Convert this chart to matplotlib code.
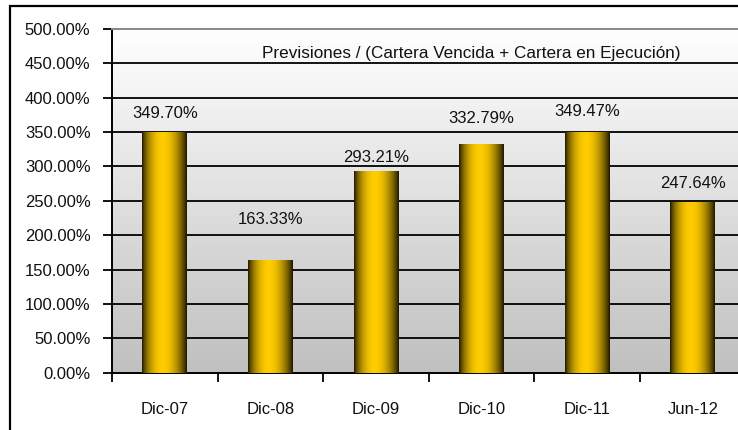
import matplotlib
matplotlib.use("Agg")
import matplotlib.pyplot as plt
from matplotlib.patches import Rectangle
from matplotlib.ticker import FixedLocator, FuncFormatter
import numpy as np

plt.rcParams['font.family'] = ['Liberation Sans', 'DejaVu Sans']

# datos
periodos = ["Dic-07", "Dic-08", "Dic-09", "Dic-10", "Dic-11", "Jun-12"]
cobertura = [349.70, 163.33, 293.21, 332.79, 349.47, 247.64]
titulo = "Previsiones / (Cartera Vencida + Cartera en Ejecución)"

# desplazamiento de las etiquetas sobre cada barra (pixeles)
label_dy = [19, 41, 14, 25, 21, 19]

fig = plt.figure(figsize=(7.38, 4.30), dpi=100)
fig.patch.set_facecolor("white")

# borde exterior del grafico (tipo Excel)
fig.patches.append(Rectangle((9.5 / 738, -0.1), 1.2, 1.1 - 6 / 430,
                             transform=fig.transFigure, fill=False,
                             edgecolor="black", linewidth=1.6))

ax = fig.add_axes([112 / 738, 57.3 / 430, 633.6 / 738, 343.7 / 430])
n = len(periodos)

# fondo degradado blanco -> gris
grad = np.linspace(0, 1, 256).reshape(-1, 1)
c_top = np.array([1.0, 1.0, 1.0])
c_bot = np.array([192, 192, 192]) / 255.0
bg = c_top + (c_bot - c_top) * grad[..., None]
ax.imshow(bg, extent=(0, n, 0, 500), aspect="auto", zorder=0,
          interpolation="bilinear", origin="upper")
ax.set_xlim(0, n)
ax.set_ylim(0, 500)

# lineas de division
for v in range(50, 500, 50):
    ax.axhline(v, color="black", linewidth=1.3, zorder=1)

x = np.arange(n) + 0.5
bars = ax.bar(x, cobertura, width=0.425, facecolor="none",
              edgecolor="none", zorder=3)

# degradado horizontal de las barras
t = np.linspace(0, 1, 200)
prof = np.clip(np.sin(np.pi * (t ** 0.9)), 0, 1) ** 0.8
oro = np.array([255, 204, 0]) / 255.0
osc = np.array([22, 18, 0]) / 255.0
bar_img = (osc + (oro - osc) * prof[:, None])[None, :, :]
for b in bars:
    x0, w, h = b.get_x(), b.get_width(), b.get_height()
    im = ax.imshow(bar_img, extent=(x0, x0 + w, 0, h), aspect="auto",
                   zorder=3, interpolation="bilinear")
    im.set_clip_path(b)

for b, v, dy in zip(bars, cobertura, label_dy):
    ax.annotate("%.2f%%" % v, (b.get_x() + b.get_width() / 2, v),
                xytext=(0, dy * 0.72), textcoords="offset points",
                ha="center", va="center", fontsize=12, color="#111111",
                zorder=5)

ax.text(0.5666, 0.928, titulo, transform=ax.transAxes, ha="center",
        va="center", fontsize=12.3, color="#111111", zorder=5)

# ejes
ax.set_yticks(np.arange(0, 501, 50))
ax.yaxis.set_major_formatter(FuncFormatter(lambda v, p: "%.2f%%" % v))
ax.xaxis.set_major_locator(FixedLocator(np.arange(0, n + 1)))
ax.xaxis.set_major_formatter(FuncFormatter(lambda v, p: ""))
ax.xaxis.set_minor_locator(FixedLocator(x))
ax.set_xticklabels(periodos, minor=True)
ax.tick_params(axis="x", which="major", direction="out", length=6.5,
               width=1.3, color="black")
ax.tick_params(axis="x", which="minor", length=0, pad=21, labelsize=12,
               labelcolor="#111111")
ax.tick_params(axis="y", direction="out", length=6.5, width=1.3,
               pad=9, labelsize=12, labelcolor="#111111")

for s in ["left", "bottom"]:
    ax.spines[s].set_linewidth(1.4)
    ax.spines[s].set_color("black")
ax.spines["top"].set_color("#888888")
ax.spines["top"].set_linewidth(1.4)
ax.spines["right"].set_visible(False)

fig.savefig("out.png", dpi=100)
